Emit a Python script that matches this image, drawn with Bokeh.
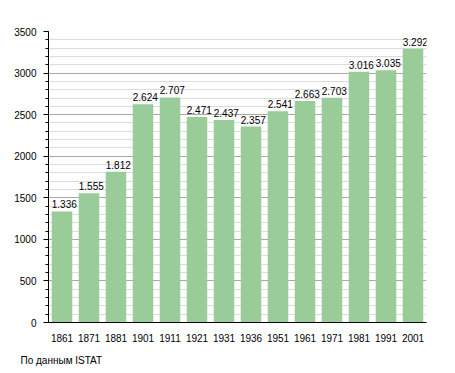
from bokeh.plotting import figure
from bokeh.models import ColumnDataSource, FactorRange, Range1d, SingleIntervalTicker, Title, LabelSet
from bokeh.transform import dodge
from bokeh.core.properties import value
from bokeh.embed import file_html
from bokeh.resources import INLINE

years = ["1861", "1871", "1881", "1901", "1911", "1921", "1931", "1936",
         "1951", "1961", "1971", "1981", "1991", "2001"]
population = [1336, 1555, 1812, 2624, 2707, 2471, 2437, 2357,
              2541, 2663, 2703, 3016, 3035, 3292]
labels = [f"{v:,}".replace(",", ".") for v in population]
y_ticks = [0, 500, 1000, 1500, 2000, 2500, 3000, 3500]
source_note = "По данным  ISTAT"

FONT = "Liberation Sans"
FS = "10px"

src = ColumnDataSource(dict(years=years, population=population, labels=labels))

p = figure(width=455, height=373, x_range=FactorRange(*years, range_padding=0),
           y_range=Range1d(y_ticks[0], y_ticks[-1]), output_backend="svg", toolbar_location=None,
           min_border_left=48, min_border_right=29, min_border_top=31, min_border_bottom=50)
p.outline_line_color = None
p.background_fill_color = "white"

p.vbar(x="years", top="population", width=0.76, source=src,
       fill_color="#99cc99", line_color=None)

ls = LabelSet(x=dodge("years", -0.38, range=p.x_range), y="population", text="labels",
              source=src, text_align="left", text_baseline="bottom", y_offset=3,
              text_font=value(FONT), text_font_size=value(FS), text_color="black")
p.add_layout(ls)

p.xgrid.grid_line_color = None
p.ygrid.ticker = SingleIntervalTicker(interval=500, num_minor_ticks=5)
p.ygrid.grid_line_color = "#a8a8a8"
p.ygrid.minor_grid_line_color = "#dcdcdc"
p.ygrid.level = "underlay"

p.yaxis.ticker = SingleIntervalTicker(interval=500, num_minor_ticks=5)
p.yaxis.major_tick_out = 5
p.yaxis.major_tick_in = 0
p.yaxis.minor_tick_out = 3
p.yaxis.minor_tick_in = 0
p.yaxis.axis_line_color = "black"
p.yaxis.major_tick_line_color = "black"
p.yaxis.minor_tick_line_color = "black"
p.yaxis.major_label_standoff = 7
p.yaxis.major_label_text_font = FONT
p.yaxis.major_label_text_font_size = FS
p.yaxis.major_label_text_color = "black"

p.xaxis.major_tick_line_color = None
p.xaxis.minor_tick_line_color = None
p.xaxis.axis_line_color = "black"
p.xaxis.major_label_standoff = 5
p.xaxis.major_label_text_font = FONT
p.xaxis.major_label_text_font_size = FS
p.xaxis.major_label_text_color = "black"

note = Title(text=source_note, align="left", offset=-28, standoff=16,
             vertical_align="bottom", text_baseline="alphabetic",
             text_font=FONT, text_font_size=FS, text_font_style="normal",
             text_color="black")
p.add_layout(note, "below")

open("out.html", "w").write(file_html(p, INLINE))
